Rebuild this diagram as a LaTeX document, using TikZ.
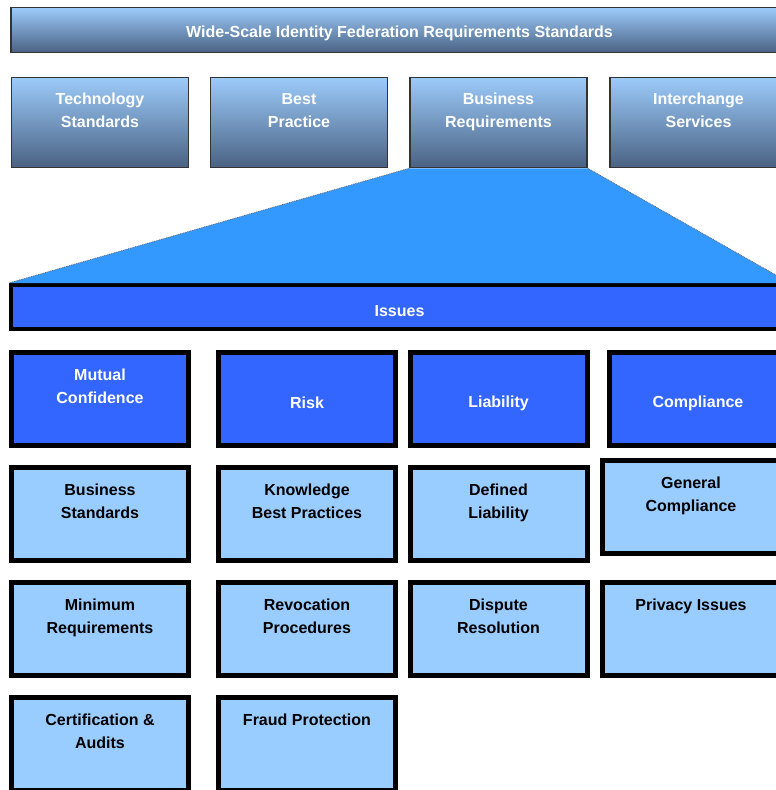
\documentclass[tikz,border=0pt]{standalone}
\usepackage{fontspec}
\setmainfont{Liberation Sans}
\usetikzlibrary{positioning}

\definecolor{gradtop}{HTML}{9CCBFA}
\definecolor{gradbot}{HTML}{4A6283}
\definecolor{trapblue}{HTML}{3399FF}
\definecolor{issueblue}{HTML}{3366FF}
\definecolor{itemblue}{HTML}{99CCFF}

% strut sitting a little low, so the text lines drop towards the box centre
\newcommand\boxstrut{\rule[-1.9pt]{0pt}{23pt}}

\tikzset{
  boxfont/.style={font=\fontsize{16}{23}\selectfont\bfseries, align=center,
    inner sep=0pt, execute at begin node=\boxstrut, execute at end node=\boxstrut},
  grad/.style={boxfont, draw=black!80, line width=1.5pt, top color=gradtop,
    bottom color=gradbot, text=white, minimum width=177pt, minimum height=90pt},
  head/.style={boxfont, draw=black, line width=5pt, fill=issueblue, text=white,
    minimum width=177pt, minimum height=93pt},
  item/.style={head, fill=itemblue, text=black},
}

\begin{document}
\begin{tikzpicture}[x=1pt,y=-1pt]
  \useasboundingbox (0,0) rectangle (776,790);
  \clip (0,0) rectangle (776,790);

  \node[grad, minimum width=777pt, minimum height=45pt,
    execute at begin node=\strut, execute at end node=\strut] (top) at (399.5,30)
    {Wide-Scale Identity Federation Requirements Standards};

  \node[grad] (b1) at (100,122.5) {Technology\\Standards\\};
  \node[grad] (b2) at (299,122.5) {Best\\Practice\\};
  \node[grad] (b3) at (498.5,122.5) {Business\\Requirements\\};
  \node[grad] (b4) at (698.5,122.5) {Interchange\\Services\\};

  \node[head, line width=4pt, minimum width=777pt, minimum height=44pt] (iss)
    at (399.5,307) {Issues};

  \fill[trapblue] (b3.south west) -- (b3.south east) -- (iss.north east)
    -- (iss.north west) -- cycle;
  \draw[black!60, densely dotted, line width=0.8pt]
    (b3.south west) -- (iss.north west)
    (b3.south east) -- (iss.north east);

  \node[head] (h1) at (100,399) {Mutual\\Confidence\\};
  \node[head] (h2) at (307,399) {Risk};
  \node[head] (h3) at (498.5,399) {Liability};
  \node[head] (h4) at (698,399) {Compliance};

  \node[item] (c1) at (100,513.5) {Business\\Standards\\};
  \node[item] (c2) at (307,513.5) {Knowledge\\Best Practices\\};
  \node[item] (c3) at (498.5,513.5) {Defined\\Liability\\};
  \node[item] (c4) at (691,506.5) {General\\Compliance\\};

  \node[item] (d1) at (100,629) {Minimum\\Requirements\\};
  \node[item] (d2) at (307,629) {Revocation\\Procedures\\};
  \node[item] (d3) at (498.5,629) {Dispute\\Resolution\\};
  \node[item] (d4) at (691,629) {Privacy Issues\\\\};

  \node[item] (e1) at (100,744) {Certification \&\\Audits\\};
  \node[item] (e2) at (307,744) {Fraud Protection\\\\};
\end{tikzpicture}
\end{document}
